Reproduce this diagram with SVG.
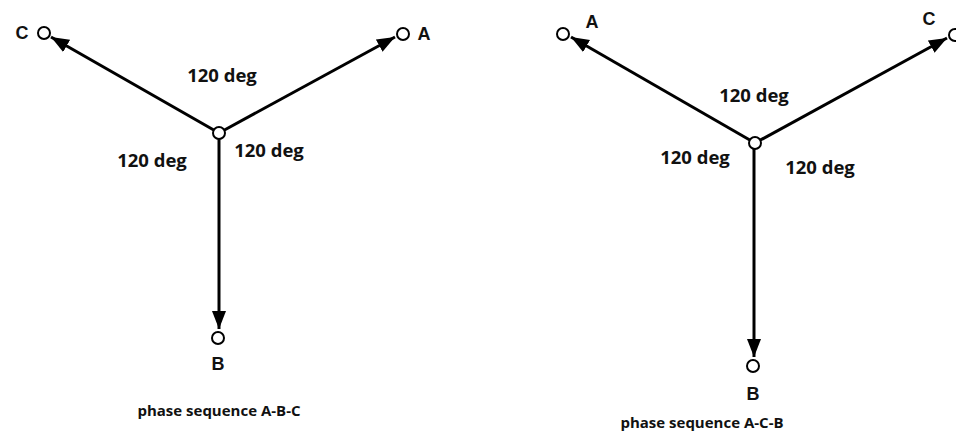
<svg xmlns="http://www.w3.org/2000/svg" width="956" height="432" viewBox="0 0 956 432">
<style>
.ln{stroke:#000;stroke-width:3;fill:none}
.nd{fill:#fff;stroke:#000;stroke-width:2}
.lb{font-family:"Liberation Sans",Arial,sans-serif;font-weight:bold;font-size:18px;fill:#111;text-anchor:middle}
.dg{font-family:"Open Sans","Liberation Sans",sans-serif;font-weight:bold;font-size:18.5px;fill:#111;text-anchor:middle}
.ps{font-family:"Open Sans","Liberation Sans",sans-serif;font-weight:bold;font-size:15px;fill:#111;text-anchor:middle}
</style>
<defs>
<marker id="ah" markerUnits="userSpaceOnUse" markerWidth="19" markerHeight="15" refX="18" refY="7" orient="auto">
<path d="M0,0 L18,7 L0,14 z" fill="#000"/>
</marker>
</defs>
<rect width="956" height="432" fill="#fff"/>
<g id="connectors">
<line class="ln" x1="219" y1="133" x2="51" y2="37" marker-end="url(#ah)"/>
<line class="ln" x1="219" y1="133" x2="395" y2="37" marker-end="url(#ah)"/>
<line class="ln" x1="219" y1="139" x2="219" y2="329" marker-end="url(#ah)"/>
<line class="ln" x1="755" y1="143" x2="571" y2="37" marker-end="url(#ah)"/>
<line class="ln" x1="755" y1="143" x2="947" y2="38" marker-end="url(#ah)"/>
<line class="ln" x1="754" y1="149" x2="754" y2="357" marker-end="url(#ah)"/>
</g>
<g id="left-center"><circle class="nd" cx="219" cy="133" r="6"/></g>
<g id="left-C"><circle class="nd" cx="44" cy="33" r="6"/><text class="lb" x="22" y="39">C</text></g>
<g id="left-A"><circle class="nd" cx="403" cy="34" r="6"/><text class="lb" x="424" y="40">A</text></g>
<g id="left-B"><circle class="nd" cx="218" cy="338" r="6"/><text class="lb" x="218" y="370">B</text></g>
<g id="left-labels">
<text class="dg" x="222" y="82">120 deg</text>
<text class="dg" x="152" y="167">120 deg</text>
<text class="dg" x="269" y="157">120 deg</text>
<text class="ps" x="219" y="416">phase sequence A-B-C</text>
</g>
<g id="right-center"><circle class="nd" cx="755" cy="143" r="6"/></g>
<g id="right-A"><circle class="nd" cx="563" cy="34" r="6"/><text class="lb" x="592" y="28">A</text></g>
<g id="right-C"><circle class="nd" cx="955" cy="35" r="6"/><text class="lb" x="929" y="25">C</text></g>
<g id="right-B"><circle class="nd" cx="753" cy="366" r="6"/><text class="lb" x="753" y="400">B</text></g>
<g id="right-labels">
<text class="dg" x="754" y="102">120 deg</text>
<text class="dg" x="695" y="164">120 deg</text>
<text class="dg" x="820" y="174">120 deg</text>
<text class="ps" x="702" y="428">phase sequence A-C-B</text>
</g>
</svg>
